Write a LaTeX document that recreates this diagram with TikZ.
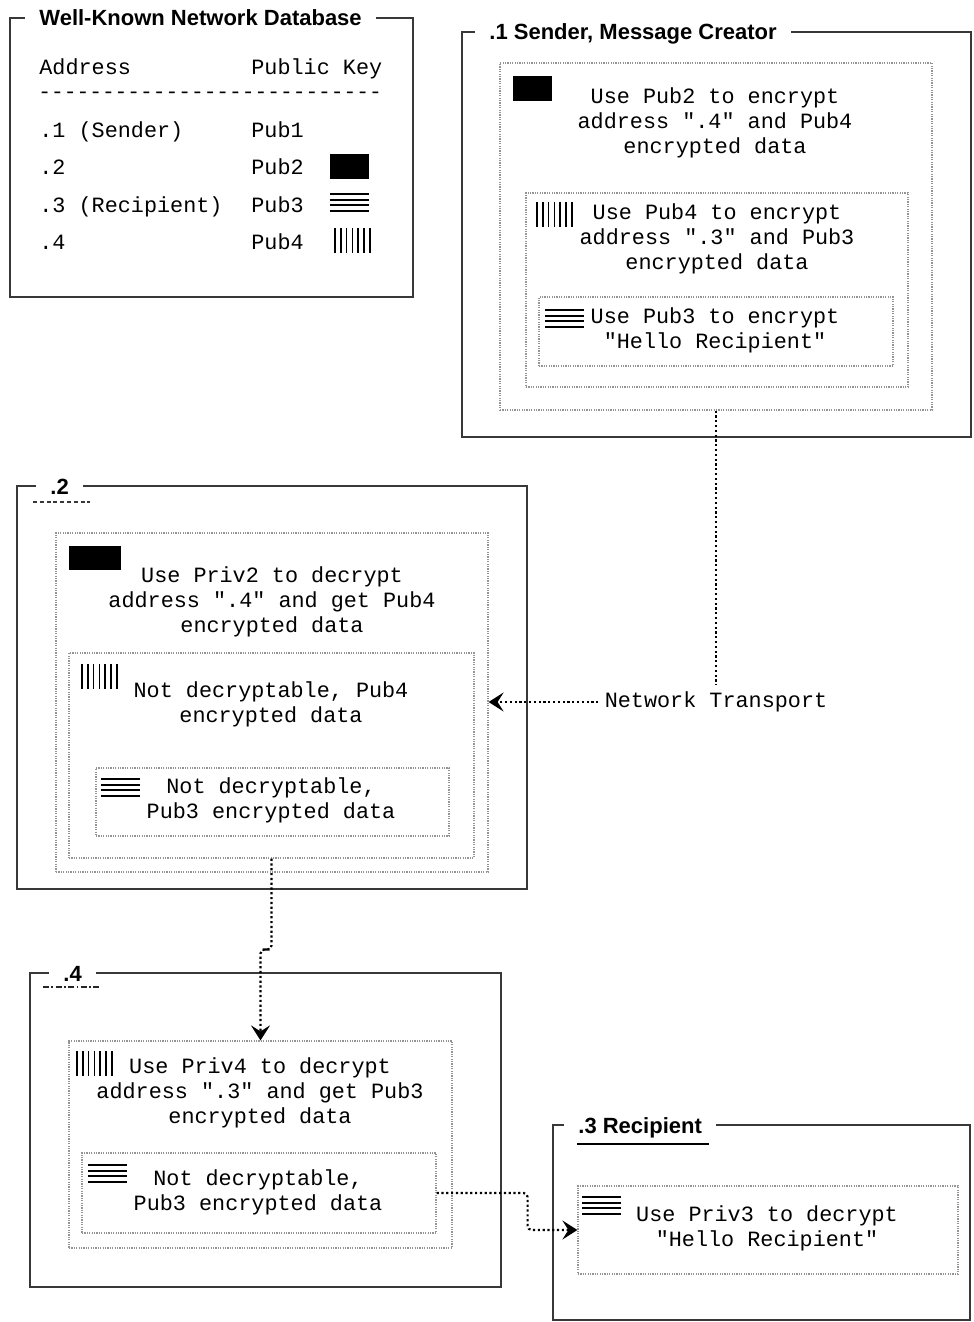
\documentclass[tikz,border=0pt]{standalone}
\usepackage{fontspec}
\setsansfont{Liberation Sans}
\setmonofont{Liberation Mono}
\usepackage{tikz}
\usetikzlibrary{calc}
\usetikzlibrary{fit,arrows.meta}

\begin{document}
\begin{tikzpicture}[x=0.5pt,y=-0.5pt,
		host/.style={draw=black!78,line width=1pt,inner sep=0pt},
		layer/.style={draw=black!42,line width=0.6pt,dash pattern=on 0.6pt off 0.6pt,inner sep=0pt},
		title/.style={fill=white,inner xsep=7pt,inner ysep=1pt,anchor=base west,font=\sffamily\bfseries\fontsize{11}{13}\selectfont},
		msg/.style={inner sep=0pt,align=center,font=\ttfamily\fontsize{10.9}{12.5}\selectfont},
		cell/.style={inner sep=0pt,anchor=base west,font=\ttfamily\fontsize{10.9}{12.5}\selectfont},
		link/.style={line width=1.1pt,dash pattern=on 1.1pt off 1.3pt},
		tip/.style={-{Stealth[length=7.5pt,width=9.5pt,inset=3pt]}},
		keytwo/.style={fill=black},
		keythree/.pic={\foreach \i in {0,...,3} \draw[line width=1pt] (0,\i*5.6) -- (39,\i*5.6);},
		keyfour/.pic={\foreach \i in {0,...,6} \draw[line width=0.75pt] (\i*5.8,0) -- (\i*5.8,25);}]
			\useasboundingbox (0,0) rectangle (974,1322);
			%database
			\node[host,fit={(10,18) (413,297)}] (db) {};
			\node[title] (dbtitle) at (25,26) {Well-Known Network Database\hspace{5pt}};
			\node[cell] (addr) at (39,75) {Address};
			\node[cell] (pubkey) at (251,75) {Public Key};
			\node[cell,font=\ttfamily\fontsize{10.6}{12.5}\selectfont] (rule) at (38,99) {---------------------------};
			\node[cell] (addr1) at (39,138) {.1 (Sender)};
			\node[cell] (addr2) at (39,175) {.2};
			\node[cell] (addr3) at (39,212) {.3 (Recipient)};
			\node[cell] (addr4) at (39,249) {.4};
			\node[cell] (pub1) at (251,138) {Pub1};
			\node[cell] (pub2) at (251,175) {Pub2};
			\node[cell] (pub3) at (251,212) {Pub3};
			\node[cell] (pub4) at (251,249) {Pub4};
			\fill[keytwo] (330,154) rectangle (369,179);
			\pic at (330,194) {keythree};
			\pic at (335,228) {keyfour};
			%.1 sender
			\node[host,fit={(462,32) (971,437)}] (host1) {};
			\node[title] (title1) at (475,40) {.1 Sender, Message Creator};
			\node[layer,fit={(500,63) (932,410)}] (s1) {};
			\node[layer,fit={(526,193) (908,387)}] (s2) {};
			\node[layer,fit={(539,297) (893,366)}] (s3) {};
			\fill[keytwo] (513,76) rectangle (552,101);
			\node[msg] (st1) at (715,123) {Use Pub2 to encrypt\\address ".4" and Pub4\\encrypted data};
			\pic at (537,202) {keyfour};
			\node[msg] (st2) at (717,239) {Use Pub4 to encrypt\\address ".3" and Pub3\\encrypted data};
			\pic at (545,310) {keythree};
			\node[msg] (st3) at (715,330) {Use Pub3 to encrypt\\"Hello Recipient"};
			%.2
			\node[host,fit={(17,486) (527,889)}] (host2) {};
			\node[title] (title2) at (36,494) {.2};
			\draw[black!78,line width=0.6pt,dash pattern=on 2pt off 1.4pt] (33,502) -- (90,502);
			\node[layer,fit={(56,533) (488,872)}] (r1) {};
			\node[layer,fit={(69,653) (474,858)}] (r2) {};
			\node[layer,fit={(96,768) (449,836)}] (r3) {};
			\fill[keytwo] (69,546) rectangle (121,570);
			\node[msg] (rt1) at (272,602) {Use Priv2 to decrypt\\address ".4" and get Pub4\\encrypted data};
			\pic at (82,664) {keyfour};
			\node[msg] (rt2) at (271,704) {Not decryptable, Pub4\\encrypted data};
			\pic at (101,779) {keythree};
			\node[msg] (rt3) at (271,800) {Not decryptable,\\Pub3 encrypted data};
			%.4
			\node[host,fit={(30,973) (501,1287)}] (host4) {};
			\node[title] (title4) at (49,981) {.4};
			\draw[black!85,line width=1.1pt,dash pattern=on 3pt off 1.2pt on 0.9pt off 1.2pt] (43,987) -- (101,987);
			\node[layer,fit={(69,1041) (452,1248)}] (q1) {};
			\node[layer,fit={(82,1153) (436,1233)}] (q2) {};
			\pic at (77,1051) {keyfour};
			\node[msg] (qt1) at (260,1093) {Use Priv4 to decrypt\\address ".3" and get Pub3\\encrypted data};
			\pic at (88,1165) {keythree};
			\node[msg] (qt2) at (258,1192) {Not decryptable,\\Pub3 encrypted data};
			%.3 recipient
			\node[host,fit={(553,1125) (970,1320)}] (host3) {};
			\node[title] (title3) at (564,1133) {.3 Recipient};
			\draw[black,line width=1.2pt] (577,1144) -- (709,1144);
			\node[layer,fit={(578,1186) (958,1274)}] (t1) {};
			\pic at (582,1197) {keythree};
			\node[msg] (tt1) at (767,1228) {Use Priv3 to decrypt\\"Hello Recipient"};
			%transport
			\node[msg,inner sep=3pt] (net) at (716,702) {Network Transport};
			\draw[link] (s1.south) -- (s1.south |- net.north);
			\draw[link,tip] (net.west) -- (net.west -| r1.east);
			\draw[link,tip,rounded corners=2pt] (r2.south) |- ($(r2.south)!.5!(q1.north)$) -| (q1.north);
			\draw[link,tip,rounded corners=2pt] (q2.east) -- ++(91,0) |- (t1.west);
\end{tikzpicture}
\end{document}
